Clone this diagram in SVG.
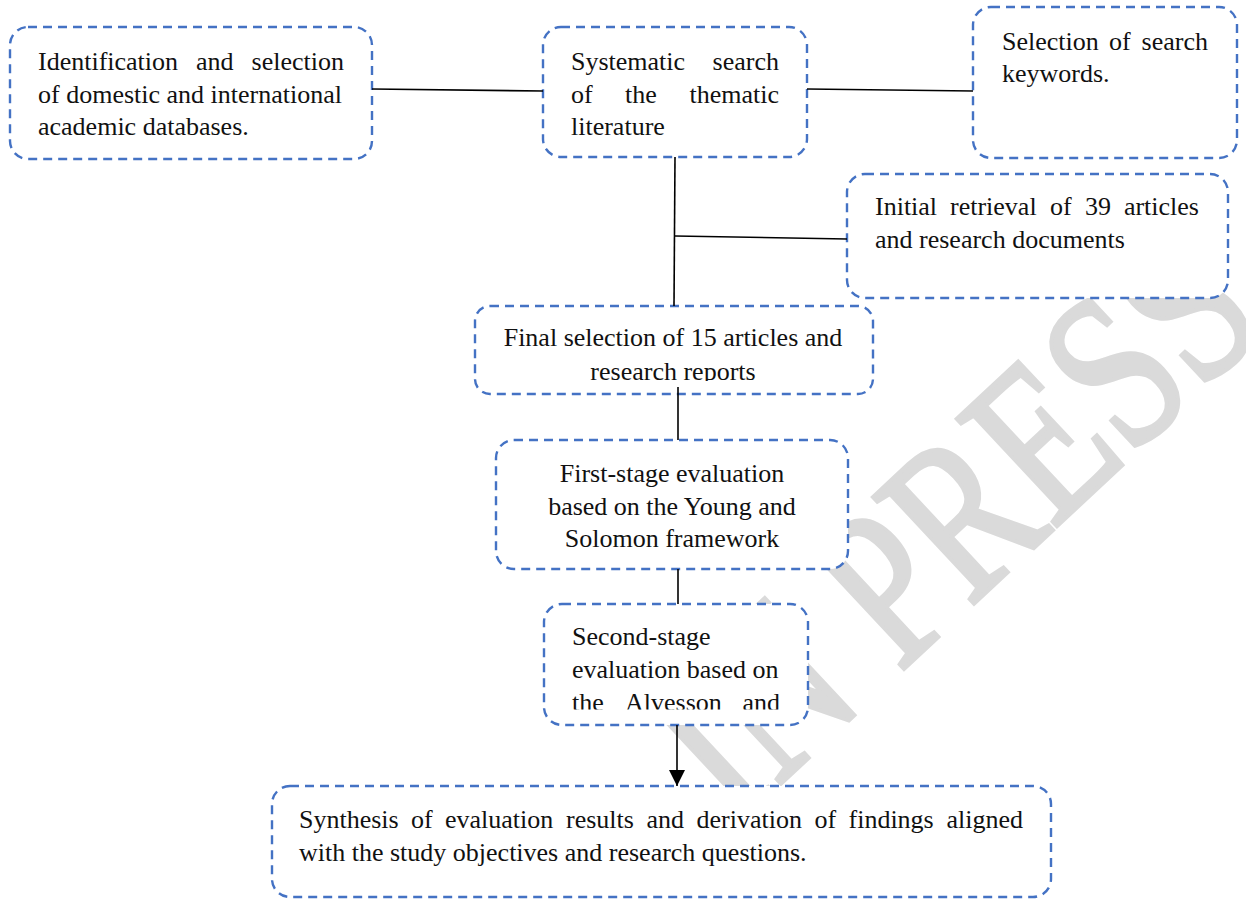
<svg xmlns="http://www.w3.org/2000/svg" width="1246" height="900" viewBox="0 0 1246 900">
<style>
.box{fill:#ffffff;stroke:#4472C4;stroke-width:2.4;stroke-dasharray:9 6}
.t{font-family:"Liberation Serif","Times New Roman",serif;font-size:26px;fill:#111111}
.c{text-anchor:middle}
.ln{stroke:#000000;stroke-width:1.6;fill:none}
.wm{font-family:"Liberation Serif","Times New Roman",serif;font-size:172px;fill:#dadada;stroke:#dadada;stroke-width:3.5}
</style>
<defs>
<marker id="arr" markerUnits="userSpaceOnUse" markerWidth="16" markerHeight="16" refX="16" refY="8" orient="auto">
<path d="M0,0 L16,8 L0,16 z" fill="#000000"/>
</marker>
<clipPath id="clip5"><rect x="475" y="306" width="398" height="75"/></clipPath>
<clipPath id="clip7"><rect x="544" y="604" width="264" height="105.5"/></clipPath>
</defs>
<rect width="1246" height="900" fill="#ffffff"/>
<text class="wm" transform="translate(735,826) rotate(-43) scale(1,1.3)">IN PRESS</text>

<g id="n1">
<rect class="box" x="10" y="27" width="362" height="132" rx="18"/>
<text class="t" y="70"><tspan x="38">Identification</tspan><tspan x="196">and</tspan><tspan x="344" text-anchor="end">selection</tspan></text>
<text class="t" x="38" y="102.5">of domestic and international</text>
<text class="t" x="38" y="135">academic databases.</text>
</g>
<g id="n2">
<rect class="box" x="543" y="27" width="264" height="130" rx="18"/>
<text class="t" y="69.5"><tspan x="571">Systematic</tspan><tspan x="779" text-anchor="end">search</tspan></text>
<text class="t" y="102.5"><tspan x="571">of</tspan><tspan x="625">the</tspan><tspan x="779" text-anchor="end">thematic</tspan></text>
<text class="t" x="571" y="135">literature</text>
</g>
<g id="n3">
<rect class="box" x="973" y="7" width="264" height="151" rx="18"/>
<text class="t" y="49.5"><tspan x="1002">Selection</tspan><tspan x="1109">of</tspan><tspan x="1208" text-anchor="end">search</tspan></text>
<text class="t" x="1002" y="82">keywords.</text>
</g>
<g id="n4">
<rect class="box" x="847" y="174" width="381" height="124" rx="18"/>
<text class="t" y="214.5"><tspan x="875">Initial</tspan><tspan x="950">retrieval</tspan><tspan x="1050">of</tspan><tspan x="1085">39</tspan><tspan x="1199" text-anchor="end">articles</tspan></text>
<text class="t" x="875" y="247.5">and research documents</text>
</g>
<g id="n5">
<rect class="box" x="475" y="306" width="398" height="88" rx="15"/>
<g clip-path="url(#clip5)">
<text class="t c" x="673" y="346">Final selection of 15 articles and</text>
<text class="t c" x="673" y="379.5">research reports</text>
</g>
</g>
<g id="n6">
<rect class="box" x="496" y="440" width="352" height="129" rx="18"/>
<text class="t c" x="672" y="482">First-stage evaluation</text>
<text class="t c" x="672" y="514.5">based on the Young and</text>
<text class="t c" x="672" y="547">Solomon framework</text>
</g>
<g id="n7">
<rect class="box" x="544" y="604" width="264" height="121" rx="18"/>
<g clip-path="url(#clip7)">
<text class="t" x="572" y="644.5">Second-stage</text>
<text class="t" x="572" y="677.5">evaluation based on</text>
<text class="t" y="711"><tspan x="572">the</tspan><tspan x="625">Alvesson</tspan><tspan x="780" text-anchor="end">and</tspan></text>
</g>
</g>
<g id="n8">
<rect class="box" x="272" y="786" width="779" height="111" rx="18"/>
<text class="t" y="827.5"><tspan x="299">Synthesis</tspan><tspan x="411">of</tspan><tspan x="445">evaluation</tspan><tspan x="566">results</tspan><tspan x="646.5">and</tspan><tspan x="696.5">derivation</tspan><tspan x="814.5">of</tspan><tspan x="848.5">findings</tspan><tspan x="1023" text-anchor="end">aligned</tspan></text>
<text class="t" x="299" y="860.5">with the study objectives and research questions.</text>
</g>

<g id="connectors">
<path class="ln" d="M372,89 L543,91"/>
<path class="ln" d="M807,89 L973,91"/>
<path class="ln" d="M675,157 L674,306"/>
<path class="ln" d="M675,236 L847,239"/>
<path class="ln" d="M678,387 L678,440"/>
<path class="ln" d="M678,569 L678,604"/>
<path class="ln" d="M677,725 L677,786" marker-end="url(#arr)"/>
</g>
</svg>
